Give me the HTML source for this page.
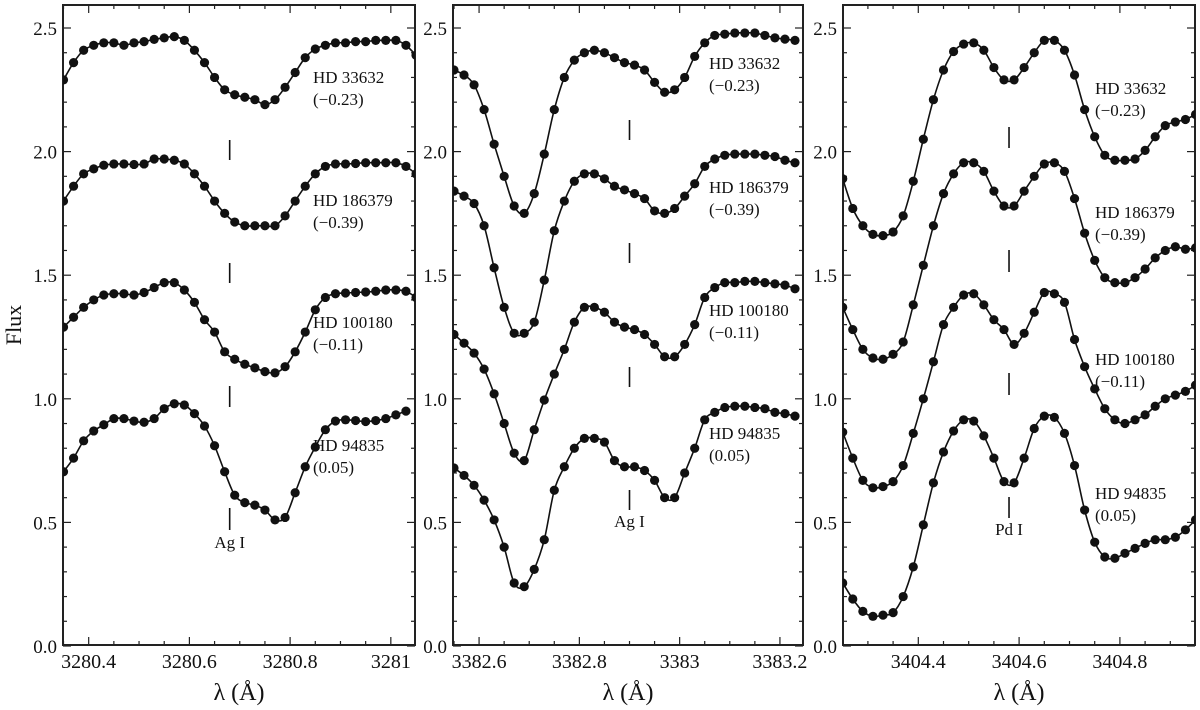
<!DOCTYPE html>
<html><head><meta charset="utf-8"><style>
html,body{margin:0;padding:0;background:#fff;}
svg{display:block;}
svg text{font-family:"Liberation Serif","DejaVu Serif","Times New Roman",serif;}
</style></head><body>
<svg id="chart" width="1200" height="710" viewBox="0 0 1200 710" xmlns="http://www.w3.org/2000/svg" font-family="Liberation Serif, DejaVu Serif, serif"></svg>
<script>
// ---- data ----
const starNames = ["HD 33632", "HD 186379", "HD 100180", "HD 94835"];
const starAbund = ["(\u22120.23)", "(\u22120.39)", "(\u22120.11)", "(0.05)"];

// panel 1: Ag I 3280.68
const p1Start = 3280.35, p1Step = 0.02;
const p1HD33632 = [2.29,2.36,2.41,2.43,2.44,2.44,2.43,2.44,2.445,2.454,2.46,2.465,2.45,2.41,2.36,2.30,2.25,2.23,2.22,2.21,2.19,2.21,2.26,2.32,2.38,2.415,2.43,2.44,2.44,2.445,2.445,2.45,2.45,2.45,2.43,2.39];
const p1HD186379 = [1.80,1.86,1.91,1.93,1.945,1.95,1.95,1.948,1.95,1.97,1.97,1.965,1.95,1.91,1.86,1.80,1.75,1.715,1.70,1.70,1.70,1.70,1.74,1.80,1.86,1.91,1.94,1.95,1.95,1.952,1.955,1.955,1.955,1.955,1.94,1.91];
const p1HD100180 = [1.29,1.33,1.37,1.40,1.42,1.425,1.425,1.42,1.43,1.45,1.47,1.47,1.44,1.39,1.32,1.27,1.19,1.16,1.14,1.125,1.11,1.105,1.13,1.19,1.27,1.36,1.41,1.425,1.428,1.43,1.432,1.435,1.44,1.44,1.435,1.41];
const p1HD94835 = [0.705,0.76,0.83,0.87,0.895,0.92,0.92,0.91,0.905,0.92,0.96,0.98,0.975,0.94,0.89,0.81,0.705,0.61,0.58,0.57,0.55,0.51,0.52,0.62,0.725,0.805,0.875,0.91,0.915,0.912,0.908,0.912,0.92,0.935,0.95];

// panel 2: Ag I 3382.9
const p2Start = 3382.55, p2Step = 0.02;
const p2HD33632 = [2.33,2.31,2.27,2.17,2.03,1.90,1.78,1.75,1.83,1.99,2.17,2.30,2.37,2.40,2.41,2.40,2.38,2.36,2.35,2.33,2.28,2.24,2.25,2.30,2.385,2.44,2.47,2.475,2.48,2.48,2.48,2.47,2.46,2.455,2.45];
const p2HD186379 = [1.84,1.82,1.79,1.70,1.53,1.37,1.265,1.265,1.31,1.48,1.68,1.80,1.88,1.91,1.91,1.89,1.86,1.845,1.83,1.81,1.76,1.75,1.77,1.82,1.87,1.94,1.97,1.985,1.99,1.99,1.99,1.985,1.98,1.965,1.955];
const p2HD100180 = [1.26,1.225,1.185,1.12,1.02,0.90,0.78,0.75,0.875,0.995,1.10,1.20,1.31,1.37,1.37,1.35,1.31,1.29,1.28,1.26,1.22,1.17,1.17,1.22,1.30,1.41,1.45,1.47,1.47,1.475,1.475,1.47,1.465,1.46,1.445];
const p2HD94835 = [0.72,0.69,0.65,0.59,0.51,0.40,0.255,0.24,0.31,0.43,0.63,0.725,0.80,0.84,0.84,0.825,0.75,0.725,0.725,0.71,0.67,0.60,0.60,0.70,0.80,0.915,0.945,0.965,0.97,0.97,0.965,0.96,0.945,0.94,0.93];

// panel 3: Pd I 3404.58
const p3Start = 3404.25, p3Step = 0.02;
const p3HD33632 = [1.89,1.77,1.70,1.665,1.66,1.675,1.74,1.88,2.05,2.21,2.33,2.405,2.435,2.44,2.41,2.34,2.29,2.29,2.34,2.40,2.45,2.45,2.41,2.31,2.17,2.06,1.985,1.965,1.965,1.97,2.005,2.06,2.105,2.12,2.13,2.15];
const p3HD186379 = [1.37,1.28,1.20,1.165,1.16,1.18,1.23,1.38,1.54,1.70,1.83,1.91,1.955,1.955,1.92,1.84,1.78,1.78,1.84,1.90,1.95,1.955,1.92,1.81,1.67,1.56,1.49,1.47,1.47,1.49,1.525,1.57,1.60,1.615,1.605,1.61];
const p3HD100180 = [0.865,0.76,0.67,0.64,0.645,0.665,0.73,0.86,1.00,1.15,1.30,1.37,1.42,1.425,1.38,1.32,1.28,1.22,1.265,1.35,1.43,1.425,1.39,1.24,1.13,1.04,0.96,0.915,0.90,0.915,0.935,0.97,1.00,1.015,1.03,1.055];
const p3HD94835 = [0.255,0.19,0.14,0.12,0.125,0.135,0.20,0.32,0.49,0.66,0.785,0.87,0.915,0.91,0.85,0.76,0.665,0.66,0.76,0.88,0.93,0.925,0.86,0.73,0.55,0.42,0.36,0.355,0.375,0.395,0.415,0.43,0.43,0.44,0.47,0.51];

const yTicks = [0, 0.5, 1.0, 1.5, 2.0, 2.5];
const yTickLabels = ["0.0","0.5","1.0","1.5","2.0","2.5"];
const p1XTicks = [3280.4, 3280.6, 3280.8, 3281];
const p1XLabels = ["3280.4","3280.6","3280.8","3281"];
const p2XTicks = [3382.6, 3382.8, 3383, 3383.2];
const p2XLabels = ["3382.6","3382.8","3383","3383.2"];
const p3XTicks = [3404.4, 3404.6, 3404.8];
const p3XLabels = ["3404.4","3404.6","3404.8"];
const lineWl = [3280.68, 3382.9, 3404.58];
const lineNames = ["Ag I", "Ag I", "Pd I"];

// ---- layout ----
const panels = [
  {left:63, right:415, x0:3280.349, x1:3281.048, start:p1Start, step:p1Step, series:[p1HD33632,p1HD186379,p1HD100180,p1HD94835], ticks:p1XTicks, labels:p1XLabels, labelX:313, labelY:[77,200,322,445], dash:[[140,160],[263,283],[386,407],[508,530]], lineText:548},
  {left:453, right:803, x0:3382.548, x1:3383.246, start:p2Start, step:p2Step, series:[p2HD33632,p2HD186379,p2HD100180,p2HD94835], ticks:p2XTicks, labels:p2XLabels, labelX:709, labelY:[63,187,310,433], dash:[[120,140],[243,263],[367,387],[490,510]], lineText:527},
  {left:843, right:1195, x0:3404.2506, x1:3404.949, start:p3Start, step:p3Step, series:[p3HD33632,p3HD186379,p3HD100180,p3HD94835], ticks:p3XTicks, labels:p3XLabels, labelX:1095, labelY:[88,212,359,493], dash:[[127,148],[250,272],[373,395],[497,518]], lineText:535}
];
const TOP = 5, BOTTOM = 645;
const FONT = '"Liberation Serif", "DejaVu Serif", serif';
const yScale = v => 646 - v * 247.2;
const svg = document.getElementById('chart');
const NS = "http://www.w3.org/2000/svg";
function mk(tag, attrs, parent) {
  const e = document.createElementNS(NS, tag);
  for (const k in attrs) e.setAttribute(k, attrs[k]);
  if (tag === 'text') e.style.fontFamily = FONT;
  (parent || svg).appendChild(e);
  return e;
}

panels.forEach((p, pi) => {
  const xs = v => p.left + (v - p.x0) / (p.x1 - p.x0) * (p.right - p.left);
  const g = mk('g', {});
  
  
  const fr = mk('rect', {x:p.left, y:TOP, width:p.right-p.left, height:BOTTOM-TOP, fill:'none', stroke:'#222', 'stroke-width':2}, g);
  
  
  for (let k = 0; k <= 25; k++) {
    const yy = yScale(k / 10);
    if (yy < TOP + 1) continue;
    const len = (k % 5 === 0) ? 8 : 4;
    mk('line', {x1:p.left, x2:p.left+len, y1:yy, y2:yy, stroke:'#222', 'stroke-width':1.2}, g);
    mk('line', {x1:p.right, x2:p.right-len, y1:yy, y2:yy, stroke:'#222', 'stroke-width':1.2}, g);
  }
  yTicks.forEach((v, i) => {
    const t = mk('text', {x:p.left-6, y:yScale(v)+7, 'text-anchor':'end', 'font-size':19, fill:'#111'}, g);
    t.textContent = yTickLabels[i];
    
    
  });
  const kStart = Math.ceil(p.x0 / 0.05), kEnd = Math.floor(p.x1 / 0.05);
  for (let k = kStart; k <= kEnd; k++) {
    const xx = xs(k * 0.05);
    const major = (k % 4 === 0);
    const len = major ? 8 : 4;
    mk('line', {x1:xx, x2:xx, y1:BOTTOM, y2:BOTTOM-len, stroke:'#222', 'stroke-width':1.2}, g);
    mk('line', {x1:xx, x2:xx, y1:TOP, y2:TOP+len, stroke:'#222', 'stroke-width':1.2}, g);
  }
  p.ticks.forEach((v, i) => {
    const t = mk('text', {x:xs(v), y:668, 'text-anchor':'middle', 'font-size':20, fill:'#111'}, g);
    t.textContent = p.labels[i];
    
    
  });
  const xt = mk('text', {x:(p.left+p.right)/2, y:700, 'text-anchor':'middle', 'font-size':24, fill:'#111'}, g);
  xt.textContent = "\u03BB (\u00C5)";
  
  
  const cp = mk('clipPath', {id:'clip'+pi}, g);
  mk('rect', {x:p.left, y:TOP, width:p.right-p.left, height:BOTTOM-TOP}, cp);
  p.series.forEach((arr, si) => {
    const pts = arr.map((v, i) => [xs(p.start + i * p.step), yScale(v)]);
    let d = 'M' + pts[0][0].toFixed(1) + ',' + pts[0][1].toFixed(1);
    for (let i = 0; i < pts.length - 1; i++) {
      const p0 = pts[Math.max(0, i-1)], p1 = pts[i], p2 = pts[i+1], p3 = pts[Math.min(pts.length-1, i+2)];
      const c1x = p1[0] + (p2[0]-p0[0])/6, c1y = p1[1] + (p2[1]-p0[1])/6;
      const c2x = p2[0] - (p3[0]-p1[0])/6, c2y = p2[1] - (p3[1]-p1[1])/6;
      d += ' C' + c1x.toFixed(1)+','+c1y.toFixed(1)+' '+c2x.toFixed(1)+','+c2y.toFixed(1)+' '+p2[0].toFixed(1)+','+p2[1].toFixed(1);
    }
    const path = mk('path', {d:d, fill:'none', stroke:'#111', 'stroke-width':1.6, 'clip-path':'url(#clip'+pi+')'}, g);
    
    
    pts.forEach(pt => {
      const c = mk('circle', {cx:pt[0], cy:pt[1], r:4.6, fill:'#111', 'clip-path':'url(#clip'+pi+')'}, g);
      
      
    });
    const t1 = mk('text', {x:p.labelX, y:p.labelY[si]+6, 'font-size':17, fill:'#111'}, g);
    t1.textContent = starNames[si];
    
    
    const t2 = mk('text', {x:p.labelX, y:p.labelY[si]+28, 'font-size':17, fill:'#111'}, g);
    t2.textContent = starAbund[si];
    
    
  });
  const lx = xs(lineWl[pi]);
  p.dash.forEach(dd => {
    const l = mk('line', {x1:lx, x2:lx, y1:dd[0], y2:dd[1], stroke:'#111', 'stroke-width':1.6}, g);
    
    
  });
  const lt = mk('text', {x:lx, y:p.lineText, 'text-anchor':'middle', 'font-size':17, fill:'#111'}, g);
  lt.textContent = lineNames[pi];
  
  
});
const yt = mk('text', {x:0, y:0, 'text-anchor':'middle', 'font-size':22, fill:'#111', transform:'translate(21,325) rotate(-90)'});
yt.textContent = "Flux";


</script>
</body></html>
